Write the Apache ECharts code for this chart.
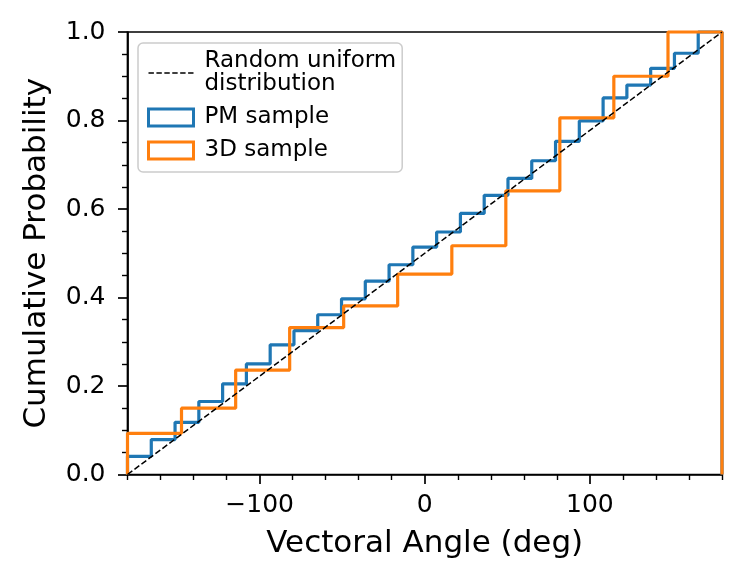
<!DOCTYPE html>
<html>
<head>
<meta charset="utf-8">
<script src="https://cdn.jsdelivr.net/npm/echarts@6/dist/echarts.min.js"></script>
<style>
  html, body { margin: 0; padding: 0; background: #fff; }
  #chart { width: 746px; height: 586px; }
</style>
</head>
<body>
<div id="chart"></div>
<script>
// bin edges of the two cumulative histograms
var pmEdges = [-180, -165.6, -151.2, -136.8, -122.4, -108, -93.6, -79.2, -64.8, -50.4, -36, -21.6, -7.2,
               7.2, 21.6, 36, 50.4, 64.8, 79.2, 93.6, 108, 122.4, 136.8, 151.2, 165.6, 180];
var pmValues = [0.041, 0.079, 0.118, 0.165, 0.205, 0.25, 0.293, 0.325, 0.361, 0.397, 0.437, 0.474, 0.514,
                0.548, 0.590, 0.631, 0.669, 0.709, 0.753, 0.799, 0.851, 0.880, 0.918, 0.952, 1.0];

var d3Edges = [-180, -147.3, -114.5, -81.8, -49.1, -16.4, 16.4, 49.1, 81.8, 114.5, 147.3, 180];
var d3Values = [0.093, 0.150, 0.236, 0.332, 0.381, 0.453, 0.517, 0.641, 0.806, 0.900, 1.0];

// uniform reference line
var uniformLine = [[-180, 0], [180, 1]];

var xMajorTicks = [-100, 0, 100];
var xMinorTicks = [-180, -160, -140, -120, -80, -60, -40, -20, 20, 40, 60, 80, 120, 140, 160, 180];

var FONT = 'DejaVu Sans';
var BLUE = '#1f77b4';
var ORANGE = '#ff7f0e';

// histtype='step' outline: up at first edge, flat over each bin, down at the last edge
function stepOutline(edges, vals) {
    var pts = [[edges[0], 0]];
    for (var i = 0; i < vals.length; i++) {
        pts.push([edges[i], vals[i]]);
        pts.push([edges[i + 1], vals[i]]);
    }
    pts.push([edges[edges.length - 1], 0]);
    return pts;
}

var dashIcon = 'path://M0,0h5.4v1.6h-5.4z M7.92,0h5.4v1.6h-5.4z M15.84,0h5.4v1.6h-5.4z ' +
               'M23.76,0h5.4v1.6h-5.4z M31.68,0h5.4v1.6h-5.4z M39.6,0h5.4v1.6h-5.4z';

var option = {
    animation: false,
    backgroundColor: '#fff',
    textStyle: { fontFamily: FONT },
    grid: {
        left: 127.5, right: 24, top: 32, bottom: 111.5,
        show: true,
        borderColor: '#000',
        borderWidth: 1.7,
        backgroundColor: 'transparent'
    },
    legend: {
        orient: 'vertical',
        left: 138, top: 43,
        padding: [7, 6, 10, 9],
        itemGap: 10,
        itemWidth: 45,
        itemHeight: 17,
        backgroundColor: 'rgba(255,255,255,0.8)',
        borderColor: '#cccccc',
        borderWidth: 1.5,
        borderRadius: 5,
        textStyle: { fontFamily: FONT, fontSize: 23, lineHeight: 23, color: '#000', padding: [0, 0, 0, 6] },
        formatter: function (name) {
            return name === 'Random uniform distribution' ? 'Random uniform\ndistribution' : name;
        },
        data: [
            { name: 'Random uniform distribution', icon: dashIcon, itemStyle: { color: '#000', borderWidth: 0 } },
            { name: 'PM sample', icon: 'rect', itemStyle: { color: '#fff', borderColor: BLUE, borderWidth: 3 } },
            { name: '3D sample', icon: 'rect', itemStyle: { color: '#fff', borderColor: ORANGE, borderWidth: 3 } }
        ]
    },
    xAxis: [{
        type: 'value',
        min: -180, max: 180,
        name: 'Vectoral Angle (deg)',
        nameLocation: 'middle',
        nameGap: 54,
        nameTextStyle: { fontFamily: FONT, fontSize: 31, color: '#000' },
        axisLine: { show: true, onZero: false, lineStyle: { color: '#000', width: 1.7 } },
        axisTick: { show: true, customValues: xMajorTicks, length: 9.5, lineStyle: { color: '#000', width: 1.7 } },
        axisLabel: {
            customValues: xMajorTicks,
            margin: 18,
            fontFamily: FONT, fontSize: 25, color: '#000',
            formatter: function (v) { return v < 0 ? '\u2212' + Math.abs(v) : String(v); }
        },
        splitLine: { show: false }
    }, {
        type: 'value',
        min: -180, max: 180,
        position: 'bottom',
        axisLine: { show: false, onZero: false },
        axisTick: { show: true, customValues: xMinorTicks, length: 5.5, lineStyle: { color: '#000', width: 1.4 } },
        axisLabel: { show: false },
        splitLine: { show: false }
    }],
    yAxis: {
        type: 'value',
        min: 0, max: 1, interval: 0.2,
        name: 'Cumulative Probability',
        nameLocation: 'middle',
        nameGap: 75,
        nameTextStyle: { fontFamily: FONT, fontSize: 31, color: '#000' },
        axisLine: { show: true, onZero: false, lineStyle: { color: '#000', width: 1.7 } },
        axisTick: { show: true, length: 9.5, lineStyle: { color: '#000', width: 1.7 } },
        minorTick: { show: true, splitNumber: 4, length: 5.5, lineStyle: { color: '#000', width: 1.4 } },
        axisLabel: {
            margin: 22,
            fontFamily: FONT, fontSize: 25, color: '#000',
            formatter: function (v) { return v.toFixed(1); }
        },
        splitLine: { show: false }
    },
    series: [{
        name: 'PM sample',
        type: 'line',
        data: stepOutline(pmEdges, pmValues),
        symbol: 'none',
        clip: false,
        z: 2,
        lineStyle: { color: BLUE, width: 3.2 },
        itemStyle: { color: BLUE }
    }, {
        name: '3D sample',
        type: 'line',
        data: stepOutline(d3Edges, d3Values),
        symbol: 'none',
        clip: false,
        z: 3,
        lineStyle: { color: ORANGE, width: 3.2 },
        itemStyle: { color: ORANGE }
    }, {
        name: 'Random uniform distribution',
        type: 'line',
        data: uniformLine,
        symbol: 'none',
        z: 4,
        lineStyle: { color: '#000', width: 1.5, type: [6, 2.7] },
        itemStyle: { color: '#000' }
    }]
};

var myChart = echarts.init(document.getElementById('chart'));
myChart.setOption(option);
</script>
</body>
</html>
